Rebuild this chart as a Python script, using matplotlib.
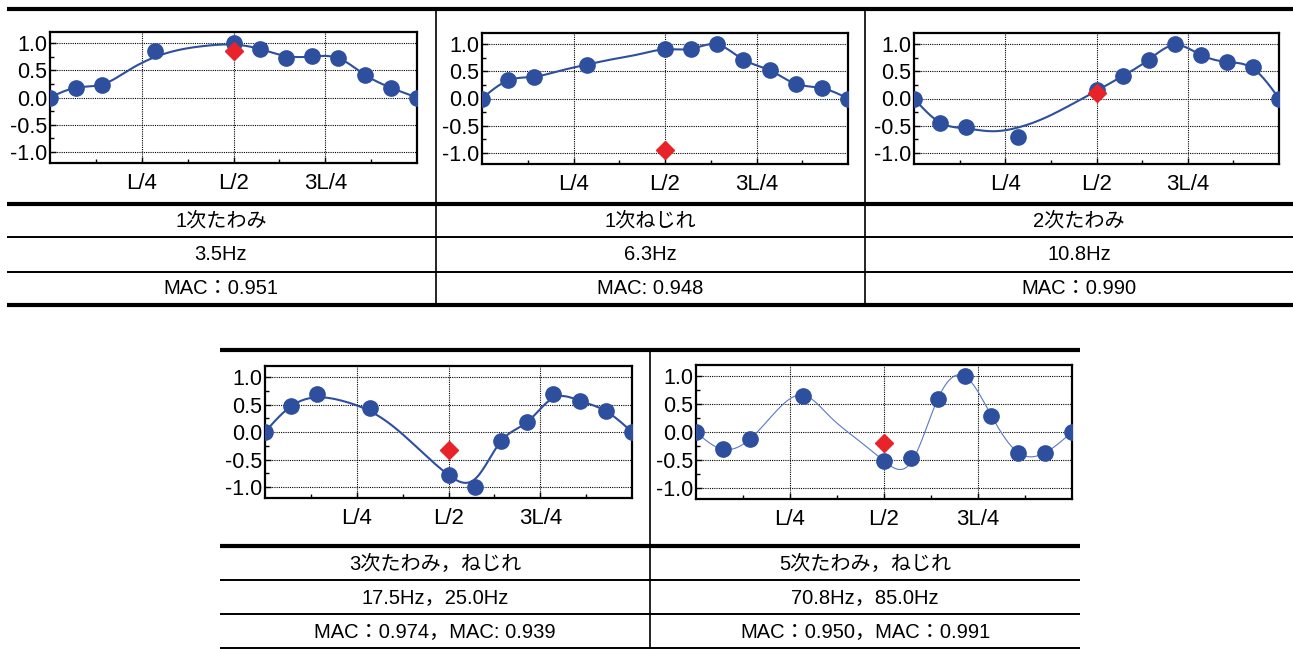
import matplotlib
matplotlib.use('Agg')
import matplotlib.pyplot as plt
from matplotlib.ticker import FixedLocator, MultipleLocator
import numpy as np

plt.rcParams['font.family'] = ['Liberation Sans', 'Noto Sans CJK JP']

W, H = 1293, 650

# sensor positions are k/14 of the span, k listed here
sensor_k = [0, 1, 2, 4, 7, 8, 9, 10, 11, 12, 13, 14]
curve_k = list(range(15))
n_seg = 14

# measured (markers), analytic curve knots, and the red diamond at L/2
meas_1b = [0, 0.18, 0.22, 0.85, 1.0, 0.89, 0.73, 0.76, 0.73, 0.41, 0.18, 0]
curve_1b = [0, 0.18, 0.24, 0.50, 0.74, 0.88, 0.95, 0.97, 0.89, 0.76, 0.75, 0.72, 0.42, 0.18, 0]
diam_1b = 0.86

meas_1t = [0, 0.33, 0.39, 0.62, 0.90, 0.90, 1.0, 0.71, 0.52, 0.27, 0.19, 0]
curve_1t = [0, 0.33, 0.40, 0.51, 0.62, 0.72, 0.81, 0.90, 0.91, 0.99, 0.71, 0.52, 0.27, 0.19, 0]
diam_1t = -0.94

meas_2b = [0, -0.44, -0.53, -0.70, 0.16, 0.41, 0.71, 1.0, 0.79, 0.67, 0.57, 0]
curve_2b = [0, -0.44, -0.55, -0.60, -0.53, -0.36, -0.12, 0.14, 0.41, 0.71, 0.98, 0.80, 0.67, 0.55, 0]
diam_2b = 0.10

meas_3 = [0, 0.47, 0.69, 0.44, -0.78, -1.0, -0.17, 0.18, 0.70, 0.56, 0.38, 0]
curve_3 = [0, 0.47, 0.63, 0.56, 0.38, 0.06, -0.37, -0.78, -0.86, -0.17, 0.18, 0.62, 0.57, 0.38, 0]
diam_3 = -0.33

meas_5 = [0, -0.31, -0.13, 0.65, -0.52, -0.47, 0.59, 1.0, 0.29, -0.37, -0.37, 0]
curve_5 = [0, -0.31, -0.13, 0.38, 0.66, 0.27, -0.13, -0.52, -0.55, 0.59, 1.0, 0.29, -0.37, -0.37, 0]
diam_5 = -0.19

xtick_labels = ['L/4', 'L/2', '3L/4']

top_modes = ['1次たわみ', '1次ねじれ', '2次たわみ']
top_freqs = ['3.5Hz', '6.3Hz', '10.8Hz']
top_macs = ['MAC：0.951', 'MAC: 0.948', 'MAC：0.990']

bot_modes = ['3次たわみ，ねじれ', '5次たわみ，ねじれ']
bot_freqs = ['17.5Hz，25.0Hz', '70.8Hz，85.0Hz']
bot_macs = ['MAC：0.974，MAC: 0.939', 'MAC：0.950，MAC：0.991']

BLUE = '#2d4f9e'
RED = '#e8242a'


def smooth(xk, yk, num=400):
    """Natural cubic spline through the knots, for drawing."""
    xk = np.asarray(xk, float)
    yk = np.asarray(yk, float)
    n = len(xk)
    h = np.diff(xk)
    A = np.zeros((n, n))
    b = np.zeros(n)
    A[0, 0] = A[-1, -1] = 1
    for i in range(1, n - 1):
        A[i, i - 1] = h[i - 1]
        A[i, i] = 2 * (h[i - 1] + h[i])
        A[i, i + 1] = h[i]
        b[i] = 3 * ((yk[i + 1] - yk[i]) / h[i] - (yk[i] - yk[i - 1]) / h[i - 1])
    c = np.linalg.solve(A, b)
    xs = np.linspace(xk[0], xk[-1], num)
    j = np.clip(np.searchsorted(xk, xs) - 1, 0, n - 2)
    dx = xs - xk[j]
    bco = (yk[j + 1] - yk[j]) / h[j] - h[j] * (2 * c[j] + c[j + 1]) / 3
    d = (c[j + 1] - c[j]) / (3 * h[j])
    return xs, yk[j] + bco * dx + c[j] * dx ** 2 + d * dx ** 3


def px_rect(x0, y0, x1, y1):
    return [x0 / W, 1 - y1 / H, (x1 - x0) / W, (y1 - y0) / H]


fig = plt.figure(figsize=(W / 100, H / 100), dpi=100)

# table lines and text on a pixel-space background axes
bg = fig.add_axes([0, 0, 1, 1])
bg.set_xlim(0, W)
bg.set_ylim(H, 0)
bg.axis('off')

thick, thin = 3.0, 1.4
for y, lw in [(9, thick), (204, thick), (237, thin), (272, thin), (305, thick)]:
    bg.plot([7, W], [y, y], color='black', lw=lw, solid_capstyle='butt')
for x in [436, 865]:
    bg.plot([x, x], [9, 305], color='black', lw=1.2)
for y, lw in [(350, thick), (546, thick), (580, thin), (614, thin), (648, thin)]:
    bg.plot([220, 1080], [y, y], color='black', lw=lw, solid_capstyle='butt')
bg.plot([650, 650], [350, 648], color='black', lw=1.2)

fs_tab = 14.5
for cx, a, b_, c_ in zip([221, 650, 1079], top_modes, top_freqs, top_macs):
    for cy, s in zip([221, 255, 289], [a, b_, c_]):
        bg.text(cx, cy, s, ha='center', va='center', fontsize=fs_tab)
for cx, a, b_, c_ in zip([435, 865], bot_modes, bot_freqs, bot_macs):
    for cy, s in zip([564, 598, 632], [a, b_, c_]):
        bg.text(cx, cy, s, ha='center', va='center', fontsize=fs_tab)

panels = [
    ((50, 32, 417, 163), meas_1b, curve_1b, diam_1b, 1.5, BLUE),
    ((482, 33, 848, 164), meas_1t, curve_1t, diam_1t, 1.5, BLUE),
    ((914, 33, 1279, 164), meas_2b, curve_2b, diam_2b, 1.5, BLUE),
    ((265, 366, 632, 498), meas_3, curve_3, diam_3, 1.5, BLUE),
    ((696, 365, 1072, 499), meas_5, curve_5, diam_5, 0.8, '#5b78c2'),
]

xs_meas = np.array(sensor_k) / n_seg
xs_curve = np.array(curve_k) / n_seg

for rect, meas, curve, diam, lw, lc in panels:
    ax = fig.add_axes(px_rect(*rect))
    cx, cy = smooth(xs_curve, curve)
    ax.plot(cx, cy, color=lc, lw=lw, zorder=2)
    ax.plot(xs_meas, meas, 'o', color=BLUE, ms=11, mec=BLUE, zorder=3)
    ax.plot([0.5], [diam], 'D', color=RED, ms=9, mec=RED, zorder=4)
    ax.set_xlim(0, 1)
    ax.set_ylim(-1.2, 1.2)
    ax.xaxis.set_major_locator(FixedLocator([0.25, 0.5, 0.75]))
    ax.set_xticklabels(xtick_labels)
    ax.xaxis.set_minor_locator(FixedLocator([0.125, 0.375, 0.625, 0.875]))
    ax.yaxis.set_major_locator(FixedLocator([-1.0, -0.5, 0.0, 0.5, 1.0]))
    ax.yaxis.set_minor_locator(MultipleLocator(0.25))
    ax.set_yticklabels(['-1.0', '-0.5', '0.0', '0.5', '1.0'])
    ax.grid(True, which='major', color='black', ls=(0, (1, 1)), lw=0.8)
    ax.tick_params(axis='both', which='both', direction='in', color='black')
    ax.tick_params(axis='both', which='major', length=4, width=1)
    ax.tick_params(axis='both', which='minor', length=3, width=1)
    ax.tick_params(axis='x', which='major', labelsize=16, pad=7)
    ax.tick_params(axis='y', which='major', labelsize=15.5, pad=2)
    for sp in ax.spines.values():
        sp.set_linewidth(1.6)
        sp.set_color('black')
    ax.set_axisbelow(True)

fig.savefig('out.png', dpi=100)
